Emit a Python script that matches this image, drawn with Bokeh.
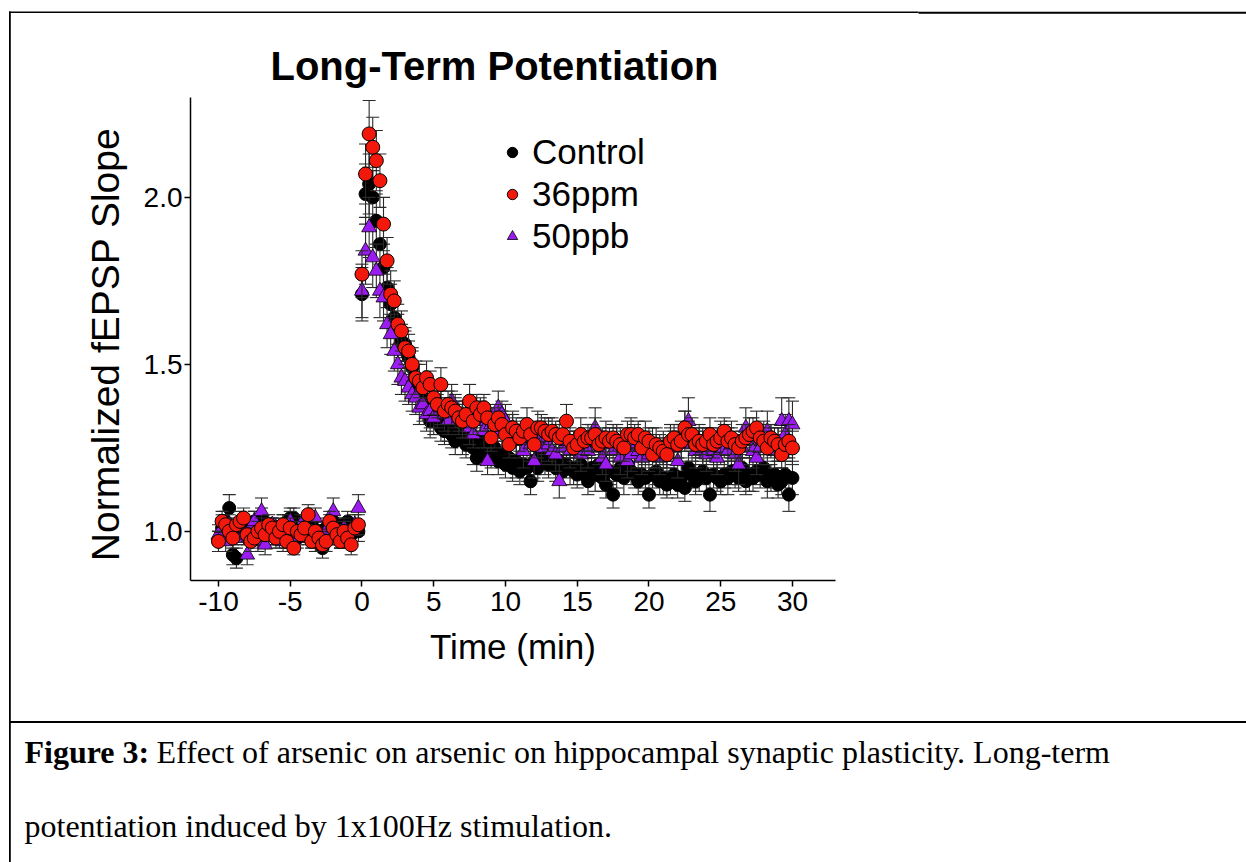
from bokeh.plotting import figure
from bokeh.models import (Range1d, FixedTicker, NumeralTickFormatter, Label,
                          BoxAnnotation, Legend, LegendItem, ColumnDataSource)
from bokeh.embed import file_html
from bokeh.resources import INLINE

# ---------------- data ----------------
TITLE = "Long-Term Potentiation"
X_LABEL = "Time (min)"
Y_LABEL = "Normalized fEPSP  Slope"
X_TICKS = [-10, -5, 0, 5, 10, 15, 20, 25, 30]
X_TICK_LABELS = ["-10", "-5", "0", "5", "10", "15", "20", "25", "30"]
Y_TICKS = [1.0, 1.5, 2.0]
SERIES_NAMES = ["Control", "36ppm", "50ppb"]
CAPTION_BOLD = "Figure 3:"
CAPTION_1 = "Effect of arsenic on arsenic on hippocampal synaptic plasticity. Long-term"
CAPTION_2 = "potentiation induced by 1x100Hz stimulation."

SAMPLE_STEP_MIN = 0.25      # one sweep every 15 s
BASELINE_START_MIN = -10.0
POST_START_MIN = 0.0

control_base = [0.97, 1.01, 1.03, 1.07, 0.93, 0.92, 1.00, 1.02, 0.99, 1.01,
                1.03, 0.98, 1.04, 1.00, 0.99, 1.01, 0.98, 1.00, 1.02, 0.99,
                1.04, 1.04, 0.98, 1.00, 1.01, 0.99, 1.02, 0.97, 1.00, 0.95,
                1.01, 0.99, 1.03, 1.00, 0.98, 1.02, 1.03, 0.99, 1.01, 1.00]
control_base_err = [0.03, 0.04, 0.03, 0.04, 0.03, 0.03, 0.03, 0.03, 0.02, 0.03,
                    0.03, 0.03, 0.03, 0.02, 0.03, 0.03, 0.02, 0.03, 0.03, 0.02,
                    0.03, 0.03, 0.03, 0.02, 0.03, 0.03, 0.03, 0.03, 0.02, 0.03,
                    0.03, 0.02, 0.03, 0.03, 0.03, 0.02, 0.03, 0.03, 0.02, 0.03]
control_post = [1.71, 2.01, 2.04, 2.00, 1.93, 1.86, 1.79, 1.73, 1.68, 1.64,
                1.60, 1.57, 1.56, 1.52, 1.49, 1.45, 1.42, 1.40, 1.38, 1.33,
                1.36, 1.34, 1.31, 1.30, 1.32, 1.29, 1.27, 1.30, 1.28, 1.26,
                1.28, 1.25, 1.22, 1.27, 1.24, 1.26, 1.23, 1.25, 1.21, 1.23,
                1.20, 1.22, 1.19, 1.21, 1.18, 1.20, 1.19, 1.15, 1.21, 1.19,
                1.24, 1.21, 1.20, 1.22, 1.19, 1.21, 1.18, 1.20, 1.19, 1.18,
                1.17, 1.20, 1.18, 1.15, 1.19, 1.17, 1.20, 1.16, 1.14, 1.18,
                1.11, 1.17, 1.19, 1.16, 1.20, 1.18, 1.17, 1.15, 1.17, 1.16,
                1.11, 1.17, 1.18, 1.15, 1.16, 1.14, 1.15, 1.17, 1.14, 1.16,
                1.13, 1.19, 1.17, 1.15, 1.16, 1.18, 1.16, 1.11, 1.17, 1.16,
                1.15, 1.17, 1.16, 1.18, 1.17, 1.16, 1.19, 1.15, 1.17, 1.16,
                1.18, 1.17, 1.19, 1.15, 1.16, 1.17, 1.14, 1.15, 1.17, 1.11, 1.16]
control_post_err = [0.08, 0.09, 0.09, 0.08, 0.08, 0.07, 0.07, 0.06, 0.06, 0.06,
                    0.05, 0.05, 0.05, 0.05, 0.05, 0.05, 0.04, 0.05, 0.04, 0.05,
                    0.04, 0.05, 0.04, 0.04, 0.05, 0.04, 0.04, 0.04, 0.05, 0.04,
                    0.04, 0.05, 0.04, 0.04, 0.04, 0.05, 0.04, 0.04, 0.04, 0.04,
                    0.04, 0.04, 0.04, 0.05, 0.04, 0.04, 0.04, 0.04, 0.04, 0.04,
                    0.05, 0.04, 0.04, 0.04, 0.04, 0.04, 0.04, 0.04, 0.05, 0.04,
                    0.04, 0.04, 0.04, 0.04, 0.04, 0.05, 0.04, 0.04, 0.04, 0.04,
                    0.04, 0.04, 0.04, 0.05, 0.04, 0.04, 0.04, 0.04, 0.04, 0.04,
                    0.04, 0.04, 0.04, 0.04, 0.05, 0.04, 0.04, 0.04, 0.04, 0.04,
                    0.04, 0.05, 0.04, 0.04, 0.04, 0.04, 0.04, 0.05, 0.04, 0.04,
                    0.04, 0.04, 0.05, 0.04, 0.04, 0.04, 0.04, 0.04, 0.05, 0.04,
                    0.04, 0.04, 0.04, 0.05, 0.04, 0.04, 0.04, 0.04, 0.04, 0.05, 0.05]

ppm36_base = [0.97, 1.03, 1.02, 1.00, 0.98, 1.02, 1.03, 1.04, 0.99, 0.97,
              0.98, 1.00, 1.01, 0.99, 1.02, 1.01, 0.98, 1.00, 1.02, 0.97,
              1.01, 0.95, 1.00, 0.99, 1.01, 1.05, 0.97, 1.00, 0.98, 0.96,
              0.97, 1.03, 1.01, 0.99, 0.97, 1.00, 0.98, 0.96, 1.01, 1.02]
ppm36_base_err = [0.03, 0.03, 0.02, 0.03, 0.03, 0.02, 0.03, 0.03, 0.02, 0.03,
                  0.02, 0.03, 0.03, 0.02, 0.03, 0.02, 0.03, 0.02, 0.03, 0.02,
                  0.03, 0.02, 0.03, 0.02, 0.03, 0.03, 0.02, 0.03, 0.02, 0.02,
                  0.03, 0.03, 0.02, 0.03, 0.02, 0.03, 0.02, 0.03, 0.02, 0.03]
ppm36_post = [1.77, 2.07, 2.19, 2.15, 2.11, 2.05, 1.92, 1.81, 1.71, 1.69,
              1.62, 1.60, 1.55, 1.54, 1.50, 1.46, 1.45, 1.43, 1.46, 1.44,
              1.40, 1.38, 1.44, 1.36, 1.38, 1.37, 1.36, 1.34, 1.33, 1.35,
              1.39, 1.33, 1.37, 1.35, 1.37, 1.34, 1.28, 1.32, 1.34, 1.32,
              1.29, 1.26, 1.31, 1.30, 1.28, 1.30, 1.32, 1.29, 1.26, 1.31,
              1.31, 1.30, 1.29, 1.30, 1.29, 1.28, 1.29, 1.33, 1.27, 1.25,
              1.26, 1.29, 1.27, 1.28, 1.28, 1.29, 1.26, 1.27, 1.28, 1.27,
              1.28, 1.27, 1.26, 1.25, 1.29, 1.29, 1.28, 1.29, 1.25, 1.28,
              1.27, 1.23, 1.26, 1.25, 1.24, 1.23, 1.27, 1.28, 1.26, 1.27,
              1.31, 1.29, 1.29, 1.26, 1.27, 1.26, 1.27, 1.29, 1.26, 1.27,
              1.28, 1.30, 1.27, 1.28, 1.26, 1.25, 1.27, 1.28, 1.29, 1.30,
              1.31, 1.28, 1.27, 1.25, 1.28, 1.27, 1.26, 1.23, 1.26, 1.27, 1.25]
ppm36_post_err = [0.07, 0.09, 0.10, 0.09, 0.09, 0.08, 0.08, 0.07, 0.07, 0.06,
                  0.06, 0.06, 0.05, 0.05, 0.05, 0.05, 0.05, 0.04, 0.05, 0.04,
                  0.05, 0.04, 0.05, 0.04, 0.04, 0.05, 0.04, 0.04, 0.05, 0.04,
                  0.05, 0.04, 0.04, 0.05, 0.04, 0.04, 0.04, 0.05, 0.04, 0.04,
                  0.04, 0.04, 0.05, 0.04, 0.04, 0.04, 0.05, 0.04, 0.04, 0.05,
                  0.04, 0.04, 0.05, 0.04, 0.04, 0.04, 0.04, 0.05, 0.04, 0.04,
                  0.04, 0.05, 0.04, 0.04, 0.04, 0.05, 0.04, 0.04, 0.05, 0.04,
                  0.04, 0.04, 0.05, 0.04, 0.04, 0.05, 0.04, 0.04, 0.04, 0.05,
                  0.04, 0.04, 0.05, 0.04, 0.04, 0.04, 0.05, 0.04, 0.04, 0.05,
                  0.05, 0.04, 0.05, 0.04, 0.04, 0.05, 0.04, 0.05, 0.04, 0.04,
                  0.05, 0.04, 0.04, 0.05, 0.04, 0.04, 0.05, 0.04, 0.05, 0.04,
                  0.05, 0.04, 0.04, 0.05, 0.04, 0.04, 0.05, 0.04, 0.04, 0.05, 0.05]

ppb50_base = [0.99, 1.01, 0.97, 1.02, 1.00, 0.98, 1.01, 0.99, 0.93, 1.01,
              1.03, 0.97, 1.06, 0.96, 0.99, 1.02, 1.01, 0.98, 0.97, 1.00,
              1.03, 0.99, 0.98, 1.02, 1.01, 1.00, 0.98, 1.04, 0.99, 0.97,
              1.00, 1.02, 1.06, 0.99, 0.98, 1.01, 0.97, 1.00, 1.02, 1.07]
ppb50_base_err = [0.03, 0.03, 0.03, 0.03, 0.03, 0.02, 0.03, 0.03, 0.03, 0.03,
                  0.03, 0.03, 0.04, 0.03, 0.03, 0.02, 0.03, 0.03, 0.03, 0.02,
                  0.03, 0.03, 0.02, 0.03, 0.03, 0.03, 0.03, 0.03, 0.02, 0.03,
                  0.03, 0.03, 0.04, 0.03, 0.03, 0.03, 0.02, 0.03, 0.03, 0.04]
ppb50_post = [1.72, 1.84, 1.91, 1.82, 1.78, 1.72, 1.70, 1.62, 1.59, 1.54,
              1.50, 1.46, 1.45, 1.43, 1.41, 1.40, 1.37, 1.38, 1.35, 1.36,
              1.34, 1.36, 1.37, 1.35, 1.33, 1.39, 1.36, 1.34, 1.35, 1.33,
              1.31, 1.29, 1.33, 1.34, 1.30, 1.21, 1.32, 1.30, 1.37, 1.35,
              1.33, 1.30, 1.31, 1.28, 1.27, 1.24, 1.28, 1.26, 1.21, 1.27,
              1.25, 1.28, 1.26, 1.24, 1.23, 1.15, 1.25, 1.27, 1.24, 1.26,
              1.25, 1.23, 1.26, 1.24, 1.27, 1.31, 1.25, 1.22, 1.20, 1.26,
              1.24, 1.27, 1.22, 1.25, 1.21, 1.23, 1.26, 1.24, 1.22, 1.25,
              1.23, 1.26, 1.24, 1.22, 1.25, 1.23, 1.26, 1.25, 1.21, 1.27,
              1.30, 1.33, 1.26, 1.24, 1.27, 1.25, 1.23, 1.26, 1.24, 1.22,
              1.25, 1.27, 1.24, 1.26, 1.23, 1.20, 1.25, 1.31, 1.27, 1.24,
              1.22, 1.25, 1.28, 1.30, 1.27, 1.24, 1.26, 1.33, 1.29, 1.33, 1.32]
ppb50_post_err = [0.08, 0.10, 0.09, 0.09, 0.08, 0.08, 0.07, 0.07, 0.06, 0.06,
                  0.06, 0.05, 0.06, 0.05, 0.05, 0.05, 0.05, 0.05, 0.05, 0.05,
                  0.05, 0.05, 0.05, 0.05, 0.04, 0.05, 0.05, 0.05, 0.04, 0.05,
                  0.05, 0.04, 0.05, 0.05, 0.05, 0.04, 0.05, 0.05, 0.05, 0.04,
                  0.05, 0.05, 0.04, 0.05, 0.05, 0.05, 0.04, 0.05, 0.05, 0.05,
                  0.05, 0.05, 0.05, 0.04, 0.05, 0.05, 0.05, 0.05, 0.05, 0.04,
                  0.05, 0.05, 0.04, 0.05, 0.05, 0.06, 0.05, 0.05, 0.05, 0.05,
                  0.05, 0.05, 0.05, 0.05, 0.05, 0.05, 0.05, 0.05, 0.05, 0.05,
                  0.05, 0.05, 0.05, 0.05, 0.05, 0.05, 0.05, 0.05, 0.05, 0.06,
                  0.06, 0.07, 0.05, 0.05, 0.05, 0.05, 0.05, 0.05, 0.05, 0.05,
                  0.05, 0.05, 0.05, 0.05, 0.05, 0.06, 0.05, 0.06, 0.05, 0.05,
                  0.05, 0.05, 0.05, 0.06, 0.05, 0.05, 0.05, 0.07, 0.06, 0.07, 0.07]

# ---------------- layout / style constants ----------------
W, H = 1246, 862
AX_L, AX_R, AX_T, AX_B = 190, 835, 97, 580     # chart axes box on the canvas (px)
X_START, X_END = -11.95, 33.0
Y_START, Y_END = 0.853, 2.299
SANS = "Liberation Sans"
SERIF = "Liberation Serif"
RED = "#f2180c"
PURPLE = "#9b1cf0"
ERR_COLOR = "#2a2a2a"

# the plotting frame covers the whole canvas; ranges are widened so the
# chart's data window lands on the axes box
_xs = (X_END - X_START) / (AX_R - AX_L)
_ys = (Y_END - Y_START) / (AX_B - AX_T)
x_range = Range1d(X_START - AX_L * _xs, X_END + (W - AX_R) * _xs)
y_range = Range1d(Y_START - (H - AX_B) * _ys, Y_END + AX_T * _ys)


def sample_times(start, n):
    return [start + i * SAMPLE_STEP_MIN for i in range(n)]


def make_source(base, base_err, post, post_err):
    t = sample_times(BASELINE_START_MIN, len(base)) + sample_times(POST_START_MIN, len(post))
    y = base + post
    e = base_err + post_err
    return ColumnDataSource(dict(t=t, y=y, lo=[a - b for a, b in zip(y, e)],
                                 hi=[a + b for a, b in zip(y, e)]))


p = figure(width=W, height=H, output_backend="svg", toolbar_location=None,
           title=None, x_range=x_range, y_range=y_range,
           min_border_left=0, min_border_right=0, min_border_top=0, min_border_bottom=0)
p.outline_line_color = None
p.xgrid.grid_line_color = None
p.ygrid.grid_line_color = None
p.background_fill_color = "white"
p.border_fill_color = "white"

for ax in (p.xaxis[0], p.yaxis[0]):
    ax.axis_line_width = 1.5
    ax.axis_line_color = "black"
    ax.major_tick_line_width = 1.5
    ax.major_tick_line_color = "black"
    ax.major_tick_out = 6
    ax.major_tick_in = 0
    ax.minor_tick_line_color = None
    ax.major_label_text_font = SANS
    ax.major_label_text_font_size = "28px"
    ax.major_label_text_color = "black"
    ax.axis_label_text_font = SANS
    ax.axis_label_text_font_style = "normal"
    ax.axis_label_text_color = "black"

xa = p.xaxis[0]
xa.fixed_location = Y_START
xa.bounds = (X_START, X_END)
xa.ticker = FixedTicker(ticks=X_TICKS)
xa.major_label_overrides = {t: s for t, s in zip(X_TICKS, X_TICK_LABELS)}
xa.major_label_standoff = 5
xa.axis_label = X_LABEL
xa.axis_label_text_font_size = "35px"
xa.axis_label_standoff = 13

ya = p.yaxis[0]
ya.fixed_location = X_START
ya.bounds = (Y_START, Y_END)
ya.ticker = FixedTicker(ticks=Y_TICKS)
ya.formatter = NumeralTickFormatter(format="0.0")
ya.major_label_standoff = 2
ya.axis_label = Y_LABEL
ya.axis_label_text_font_size = "39px"
ya.axis_label_standoff = 14

styles = [
    (control_base, control_base_err, control_post, control_post_err,
     dict(marker="circle", size=13, fill_color="black", line_color="black", line_width=1)),
    (ppb50_base, ppb50_base_err, ppb50_post, ppb50_post_err,
     dict(marker="triangle", size=15, fill_color=PURPLE, line_color="black", line_width=0.8)),
    (ppm36_base, ppm36_base_err, ppm36_post, ppm36_post_err,
     dict(marker="circle", size=14, fill_color=RED, line_color="black", line_width=1)),
]
point_renderers = []
for base, base_err, post, post_err, st in styles:
    src = make_source(base, base_err, post, post_err)
    p.segment(x0="t", y0="lo", x1="t", y1="hi", source=src, line_color=ERR_COLOR, line_width=1.1)
    p.scatter(x="t", y="hi", source=src, marker="dash", size=13, line_color=ERR_COLOR, line_width=1.1)
    p.scatter(x="t", y="lo", source=src, marker="dash", size=13, line_color=ERR_COLOR, line_width=1.1)
    point_renderers.append(p.scatter(x="t", y="y", source=src, **st))

r_control, r_50, r_36 = point_renderers
LEG_LEFT, LEG_TOP, LEG_ROW = 499, 131, 42
legend = Legend(items=[LegendItem(label=SERIES_NAMES[0], renderers=[r_control]),
                       LegendItem(label=SERIES_NAMES[1], renderers=[r_36]),
                       LegendItem(label=SERIES_NAMES[2], renderers=[r_50])],
                location=(LEG_LEFT, H - (LEG_TOP + 3 * LEG_ROW)), orientation="vertical",
                label_text_font=SANS, label_text_font_size="35px", label_text_color="black",
                glyph_width=26, glyph_height=LEG_ROW, label_height=LEG_ROW, spacing=0,
                padding=0, margin=0, label_standoff=7,
                border_line_color=None, background_fill_alpha=0)
p.add_layout(legend)


def text_label(x, y, text, font, size, style="normal", align="left"):
    # x, y: canvas px (y from top, alphabetic baseline)
    return Label(x=x, y=H - y, x_units="screen", y_units="screen", text=text,
                 text_font=font, text_font_size=size, text_font_style=style,
                 text_align=align, text_baseline="alphabetic", text_color="black")


p.add_layout(text_label(494, 65, TITLE, SANS, "40px", "bold", "center"))
p.add_layout(text_label(24, 751, CAPTION_BOLD, SERIF, "32px", "bold"))
p.add_layout(text_label(156, 751, CAPTION_1, SERIF, "32px"))
p.add_layout(text_label(24, 825, CAPTION_2, SERIF, "32px"))


def rule(x0, x1, y0, y1):
    # canvas px box (y from top)
    return BoxAnnotation(left=x0, right=x1, top=H - y0, bottom=H - y1,
                         left_units="screen", right_units="screen",
                         top_units="screen", bottom_units="screen",
                         fill_color="black", fill_alpha=1, line_color=None, level="overlay")


p.add_layout(rule(8.5, 918, 11, 12.5))       # top rule, left part
p.add_layout(rule(918, W, 11.3, 13.3))       # top rule, right part (heavier)
p.add_layout(rule(8.5, 10.3, 11, H))         # left rule
p.add_layout(rule(8.5, W, 720.5, 722.5))     # divider above caption

open("out.html", "w").write(file_html(p, INLINE))
